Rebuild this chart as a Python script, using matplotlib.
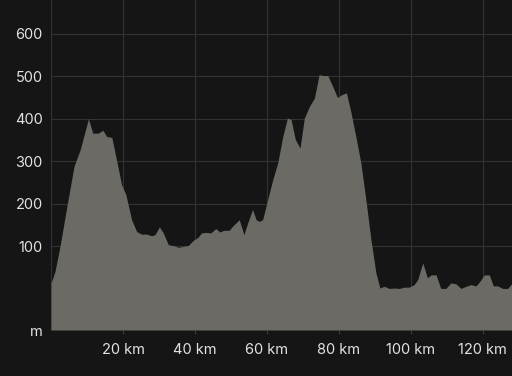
import matplotlib
matplotlib.use("Agg")
import matplotlib.pyplot as plt

# distance (km) and elevation (m)
distance_km = [0, 1.1, 2.5, 4.4, 6.4, 8.1, 10.4, 11.6, 13.1, 14.4, 15.5, 16.9, 18.2, 19.6,
               20.8, 22.4, 23.8, 25.2, 26.6, 28.0, 28.9, 30.1, 31.2, 32.6, 34.0, 35.4,
               36.8, 38.1, 39.5, 40.9, 41.8, 43.2, 44.4, 45.8, 46.9, 48.0, 49.5, 50.6,
               52.3, 53.6, 54.8, 56.0, 57.0, 57.9, 58.8, 60.2, 61.6, 63.0, 64.4, 65.7,
               66.7, 67.9, 69.2, 70.4, 71.8, 73.2, 74.5, 75.5, 76.9, 78.3, 79.6, 80.8,
               82.1, 83.3, 84.7, 86.1, 87.5, 88.9, 90.3, 91.4, 92.6, 94.0, 95.4, 96.8,
               98.2, 99.5, 100.9, 101.9, 103.3, 104.6, 105.6, 107.0, 108.3, 109.7,
               111.1, 112.5, 113.9, 115.3, 116.7, 118.1, 119.2, 120.4, 121.8, 122.9,
               124.1, 125.5, 126.9, 127.8, 128.1]
elevation_m = [12, 40, 99, 193, 288, 327, 400, 366, 366, 373, 358, 356, 303, 245,
               221, 162, 134, 128, 128, 124, 127, 145, 131, 103, 101, 97,
               99, 101, 113, 121, 131, 132, 131, 141, 133, 137, 137, 148,
               162, 127, 158, 186, 162, 158, 162, 209, 256, 296, 358, 402,
               398, 351, 331, 402, 429, 449, 504, 502, 502, 476, 450, 457,
               461, 417, 358, 296, 209, 115, 36, 1, 5, 0, 1, 0,
               3, 3, 9, 21, 60, 25, 32, 32, 0, 0,
               13, 11, 0, 5, 9, 6, 17, 32, 32, 6,
               6, 0, 0, 9, 12]

y_ticks = [-98, 100, 200, 300, 400, 500, 600]
y_tick_labels = ["m", "100", "200", "300", "400", "500", "600"]
x_ticks = [20, 40, 60, 80, 100, 120]
x_tick_labels = ["20 km", "40 km", "60 km", "80 km", "100 km", "120 km"]

plt.rcParams['font.family'] = ['Inter', 'DejaVu Sans']

BG = "#151515"
fig = plt.figure(figsize=(5.12, 3.76), dpi=100, facecolor=BG)
ax = fig.add_axes([51 / 512, 46 / 376, 461 / 512, 330 / 376], facecolor=BG)

ax.fill_between(distance_km, elevation_m, -98, color="#6b6a64", linewidth=0, zorder=3)

ax.set_xlim(0, 128.1)
ax.set_ylim(-98, 680)

ax.set_xticks(x_ticks)
ax.set_xticklabels(x_tick_labels)
ax.set_yticks(y_ticks)
ax.set_yticklabels(y_tick_labels)

ax.grid(True, color="#333333", linewidth=0.8, zorder=0)
ax.set_axisbelow(True)
for s in ax.spines.values():
    s.set_visible(False)
ax.axvline(0, color="#333333", linewidth=0.8, zorder=1)

ax.tick_params(axis='x', colors="#3a3a3a", labelcolor="#e2e2e2", labelsize=10.5,
               length=3, width=0.8, pad=6.5)
ax.tick_params(axis='y', colors="#e2e2e2", labelcolor="#e2e2e2", labelsize=10.5,
               length=0, pad=6)

fig.savefig("out.png", dpi=100, facecolor=BG)
